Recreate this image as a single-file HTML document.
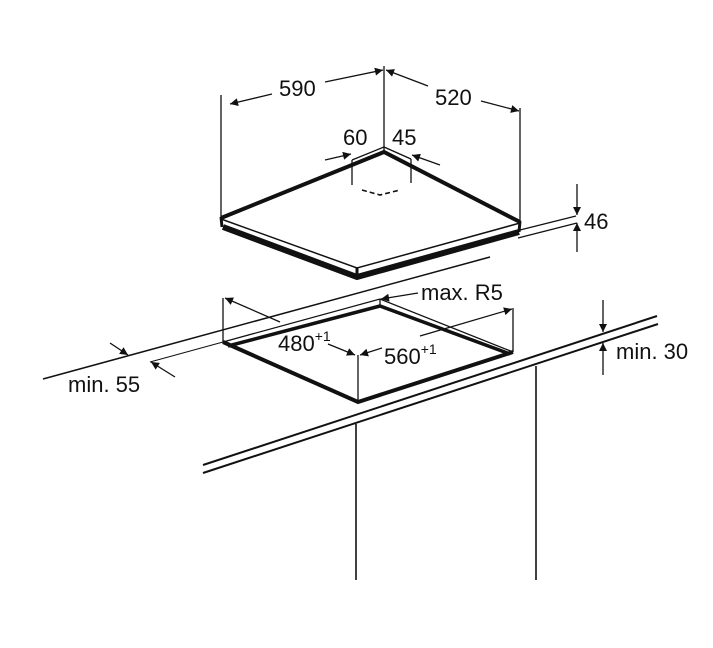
<!DOCTYPE html>
<html><head><meta charset="utf-8"><style>
html,body{margin:0;padding:0;background:#fff;}
svg{display:block;}
text{font-family:"Liberation Sans",Arial,sans-serif;fill:#111;}
</style></head><body>
<svg width="713" height="648" viewBox="0 0 713 648" xmlns="http://www.w3.org/2000/svg">
<defs>
<marker id="a" viewBox="0 0 10 10" refX="10" refY="5" markerWidth="11" markerHeight="8" markerUnits="userSpaceOnUse" orient="auto">
<path d="M0,0 L10,5 L0,10 z" fill="#111"/></marker>
</defs>
<g stroke="#111" fill="none" stroke-width="1.3">
<line x1="221" y1="95" x2="221" y2="218"/>
<line x1="384" y1="66" x2="384" y2="152"/>
<line x1="520" y1="108" x2="520" y2="222"/>
<line x1="272" y1="94" x2="230" y2="104" marker-end="url(#a)"/>
<line x1="325" y1="82" x2="383" y2="70" marker-end="url(#a)"/>
<line x1="428" y1="86" x2="386" y2="70" marker-end="url(#a)"/>
<line x1="481" y1="101" x2="519" y2="111" marker-end="url(#a)"/>
<polyline points="352,160 384,147 411,159"/>
<line x1="352" y1="160" x2="352" y2="185"/>
<line x1="411" y1="159" x2="411" y2="183"/>
<line x1="325" y1="160" x2="351" y2="154" marker-end="url(#a)"/>
<line x1="440" y1="165" x2="412" y2="155" marker-end="url(#a)"/>
<polyline points="362,190 380,195 400,190" stroke-dasharray="5,3" stroke-width="1.6"/>
<polyline points="221,218 384,152 520,222" stroke-width="4"/>
<polyline points="221,219 357,268 520,223" stroke-width="1.5"/>
<path d="M223,227 L357,277 L519,232" stroke-width="6"/>
<path d="M221,217 L222,227 M520,221 L519,232 M357,267 L357,278" stroke-width="3"/>
<line x1="520" y1="230" x2="576" y2="216"/>
<line x1="518" y1="238" x2="577" y2="223"/>
<line x1="577" y1="184" x2="577" y2="215" marker-end="url(#a)"/>
<line x1="577" y1="252" x2="577" y2="223" marker-end="url(#a)"/>
<line x1="43" y1="379" x2="490" y2="257" stroke-width="1.5"/>
<line x1="223" y1="342" x2="150" y2="362" stroke-width="1"/>
<line x1="110" y1="343" x2="128" y2="355" marker-end="url(#a)"/>
<line x1="175" y1="377" x2="151" y2="362" marker-end="url(#a)"/>
<line x1="223" y1="298" x2="223" y2="342"/>
<line x1="280" y1="322" x2="225" y2="298" marker-end="url(#a)"/>
<polyline points="223,342 380,299 513,352"/>
<line x1="380" y1="299" x2="380" y2="305"/>
<path d="M228,346 L380,306 L510,354" stroke-width="3.5"/>
<path d="M223,342 L358,402 L513,352" stroke-width="4"/>
<line x1="513" y1="308" x2="513" y2="352"/>
<line x1="420" y1="336" x2="512" y2="309" marker-end="url(#a)"/>
<line x1="358" y1="355" x2="358" y2="402"/>
<line x1="328" y1="344" x2="355" y2="355" marker-end="url(#a)"/>
<line x1="382" y1="348" x2="360" y2="355" marker-end="url(#a)"/>
<line x1="418" y1="293" x2="381" y2="299" marker-end="url(#a)"/>
<line x1="203" y1="465" x2="657" y2="316" stroke-width="2"/>
<line x1="203" y1="473" x2="658" y2="324" stroke-width="2"/>
<line x1="356" y1="424" x2="356" y2="580" stroke-width="1.6"/>
<line x1="536" y1="366" x2="536" y2="580" stroke-width="1.6"/>
<line x1="603" y1="300" x2="603" y2="332" marker-end="url(#a)"/>
<line x1="603" y1="375" x2="603" y2="343" marker-end="url(#a)"/>
</g>
<g font-size="22">
<text x="279" y="96">590</text>
<text x="435" y="105">520</text>
<text x="343" y="145">60</text>
<text x="392" y="145">45</text>
<text x="584" y="229">46</text>
<text x="421" y="300">max. R5</text>
<text x="278" y="351">480<tspan font-size="14" dy="-10">+1</tspan></text>
<text x="384" y="364">560<tspan font-size="14" dy="-10">+1</tspan></text>
<text x="68" y="392">min. 55</text>
<text x="616" y="359">min. 30</text>
</g>
</svg>
</body></html>
